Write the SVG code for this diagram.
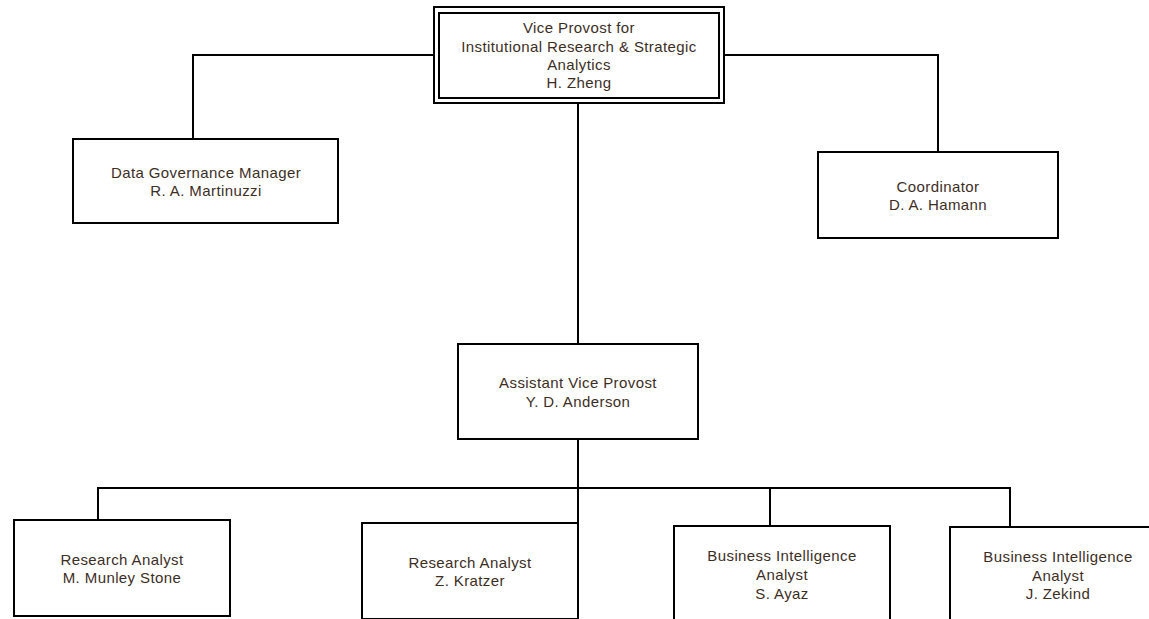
<svg xmlns="http://www.w3.org/2000/svg" width="1149" height="619" viewBox="0 0 1149 619">
<style>
.box{fill:#fff;stroke:#000;stroke-width:2}
.conn{fill:none;stroke:#000;stroke-width:2}
text{font-family:"Liberation Sans",Arial,sans-serif;font-size:15px;fill:#3d2e1f;text-anchor:middle;letter-spacing:0.4px}
</style>
<rect width="1149" height="619" fill="#fff"/>
<g id="connectors">
<path class="conn" d="M193,139 V55 H434"/>
<path class="conn" d="M724,55 H938 V152"/>
<path class="conn" d="M578,103 V344"/>
<path class="conn" d="M578,439 V523"/>
<path class="conn" d="M98,520 V488 H1010 V527"/>
<path class="conn" d="M770,488 V526"/>
</g>
<g id="vp">
<rect class="box" x="434" y="7" width="290" height="96"/>
<rect class="box" x="439" y="13" width="280" height="85"/>
<text x="579" y="33">Vice Provost for</text>
<text x="579" y="52">Institutional Research &amp; Strategic</text>
<text x="579" y="70">Analytics</text>
<text x="579" y="88">H. Zheng</text>
</g>
<g id="dgm">
<rect class="box" x="73" y="139" width="265" height="84"/>
<text x="206" y="178">Data Governance Manager</text>
<text x="206" y="196">R. A. Martinuzzi</text>
</g>
<g id="coord">
<rect class="box" x="818" y="152" width="240" height="86"/>
<text x="938" y="192">Coordinator</text>
<text x="938" y="210">D. A. Hamann</text>
</g>
<g id="avp">
<rect class="box" x="458" y="344" width="240" height="95"/>
<text x="578" y="388">Assistant Vice Provost</text>
<text x="578" y="407">Y. D. Anderson</text>
</g>
<g id="ra1">
<rect class="box" x="14" y="520" width="216" height="96"/>
<text x="122" y="565">Research Analyst</text>
<text x="122" y="583">M. Munley Stone</text>
</g>
<g id="ra2">
<rect class="box" x="362" y="523" width="216" height="96"/>
<text x="470" y="568">Research Analyst</text>
<text x="470" y="586">Z. Kratzer</text>
</g>
<g id="bi1">
<rect class="box" x="674" y="526" width="216" height="96"/>
<text x="782" y="561">Business Intelligence</text>
<text x="782" y="580">Analyst</text>
<text x="782" y="599">S. Ayaz</text>
</g>
<g id="bi2">
<rect class="box" x="950" y="527" width="216" height="96"/>
<text x="1058" y="562">Business Intelligence</text>
<text x="1058" y="581">Analyst</text>
<text x="1058" y="599">J. Zekind</text>
</g>
</svg>
